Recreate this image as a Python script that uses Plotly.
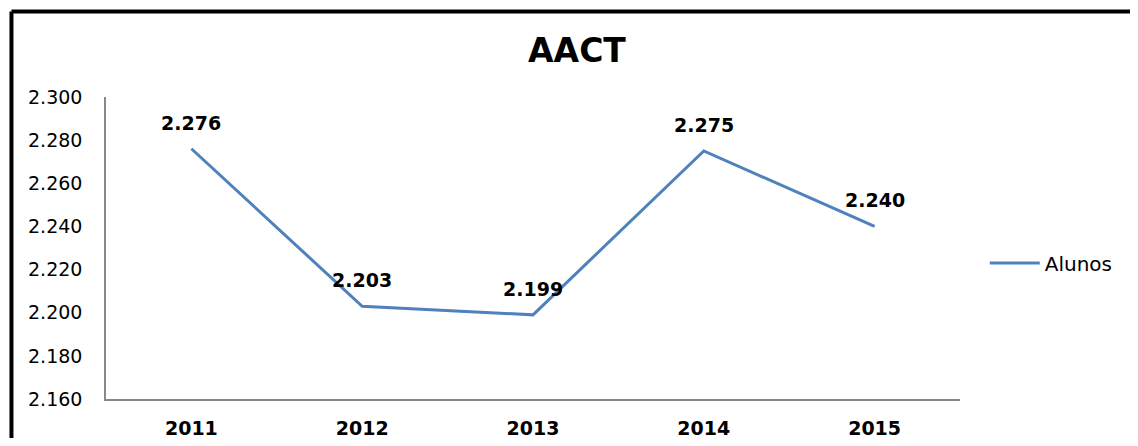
import plotly.graph_objects as go

years = ["2011", "2012", "2013", "2014", "2015"]
alunos = [2276, 2203, 2199, 2275, 2240]
series_name = "Alunos"
title_text = "AACT"
y_ticks = [2160, 2180, 2200, 2220, 2240, 2260, 2280, 2300]

def fmt(v):
    return f"{v:,}".replace(",", ".")

FONT = "DejaVu Sans"
BLUE = "#4F81BD"

fig = go.Figure()
fig.add_trace(go.Scatter(
    x=years, y=alunos, mode="lines", name=series_name,
    line=dict(color=BLUE, width=3),
    showlegend=True,
))

for i, v in enumerate(alunos):
    fig.add_annotation(
        x=i, y=v, xref="x", yref="y", text=fmt(v), showarrow=False, yshift=26,
        font=dict(family=FONT, size=19, color="#000000", weight="bold"),
    )

# outer chart border (top and left, as in the cropped reference)
fig.add_shape(type="line", xref="paper", yref="paper",
              x0=-0.1107, x1=1.25, y0=1.2831, y1=1.2831,
              line=dict(color="#000000", width=4))
fig.add_shape(type="line", xref="paper", yref="paper",
              x0=-0.1107, x1=-0.1107, y0=1.2831, y1=-0.2,
              line=dict(color="#000000", width=4))

fig.update_layout(
    width=1122, height=430,
    margin=dict(l=98, r=170, t=89, b=39),
    paper_bgcolor="white", plot_bgcolor="white",
    separators=",.",
    font=dict(family=FONT, color="#000000"),
    title=dict(text=title_text, x=0.5071, xanchor="center", y=0.9023, yanchor="middle",
               xref="container", yref="container", automargin=False,
               font=dict(family=FONT, size=33, color="#000000", weight="bold")),
    legend=dict(x=1.029, y=0.45, xanchor="left", yanchor="middle",
                font=dict(family=FONT, size=20, color="#000000"),
                bgcolor="rgba(0,0,0,0)", itemwidth=50),
    xaxis=dict(
        type="category", range=[-0.5, 4.5], showgrid=False, zeroline=False,
        showline=True, linecolor="#888888", linewidth=1.5, ticks="",
        tickfont=dict(family=FONT, size=19, color="#000000", weight="bold"),
        ticklabelstandoff=11, automargin=False,
    ),
    yaxis=dict(
        range=[2160, 2300], tickvals=y_ticks, tickformat=",d", showgrid=False,
        zeroline=False, showline=True, linecolor="#888888", linewidth=1.5, ticks="",
        tickfont=dict(family=FONT, size=19, color="#000000"),
        ticklabelstandoff=18, automargin=False,
    ),
)

fig.write_html("out.html")
